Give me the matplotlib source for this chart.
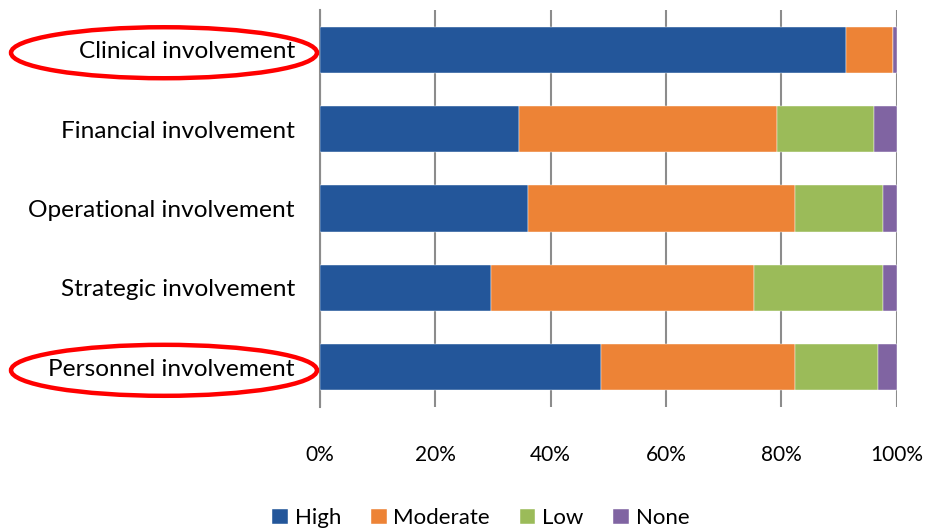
import matplotlib.pyplot as plt
from matplotlib.patches import Ellipse
import numpy as np

categories = ['Clinical involvement', 'Financial involvement', 'Operational involvement',
              'Strategic involvement', 'Personnel involvement']
high = [91.2, 34.5, 36.0, 29.7, 48.7]
moderate = [8.1, 44.8, 46.4, 45.5, 33.7]
low = [0.0, 16.7, 15.2, 22.4, 14.4]
none = [0.7, 4.0, 2.4, 2.4, 3.2]
series_names = ['High', 'Moderate', 'Low', 'None']
colors = ['#23569A', '#ED8336', '#9BBB59', '#8064A2']
circled = ['Clinical involvement', 'Personnel involvement']

plt.rcParams['font.family'] = ['Lato', 'DejaVu Sans']

fig = plt.figure(figsize=(9.3, 5.31), dpi=100)
ax = fig.add_axes([0.344, 0.2335, 0.6204, 0.7476])

y = np.arange(len(categories))
left = np.zeros(len(categories))
for vals, name, c in zip([high, moderate, low, none], series_names, colors):
    ax.barh(y, vals, left=left, height=0.58, color=c, label=name,
            edgecolor='white', linewidth=0.3, zorder=3)
    left += np.array(vals)

ax.set_xlim(0, 100)
ax.set_ylim(len(categories) - 0.5, -0.5)
ax.set_yticks(y)
ax.set_yticklabels(categories, fontsize=17.6)
ax.set_xticks(np.arange(0, 101, 20))
ax.set_xticklabels([f'{v}%' for v in range(0, 101, 20)], fontsize=15)
ax.tick_params(axis='y', length=0, pad=18)
ax.tick_params(axis='x', length=0, pad=27)
ax.grid(axis='x', color='#8C8C8C', linewidth=1.5, zorder=0)
for s in ['top', 'right', 'bottom']:
    ax.spines[s].set_visible(False)
ax.spines['left'].set_color('#8C8C8C')
ax.spines['left'].set_linewidth(1.5)

# red ellipses around highlighted labels (figure pixel coords -> fraction)
W, H = 930, 531
for cat in circled:
    i = categories.index(cat)
    ycen = ax.transData.transform((0, i))[1] - 3
    e = Ellipse((164 / W, ycen / H), 306 / W, 51 / H, transform=fig.transFigure,
                fill=False, edgecolor='#FF0000', linewidth=3.2, clip_on=False)
    fig.add_artist(e)

fig.legend(loc='center', bbox_to_anchor=(0.517, 0.024), ncol=4, frameon=False,
           fontsize=16, handlelength=0.7, handleheight=0.7, handletextpad=0.3,
           columnspacing=1.35)

fig.savefig('out.png', dpi=100)
